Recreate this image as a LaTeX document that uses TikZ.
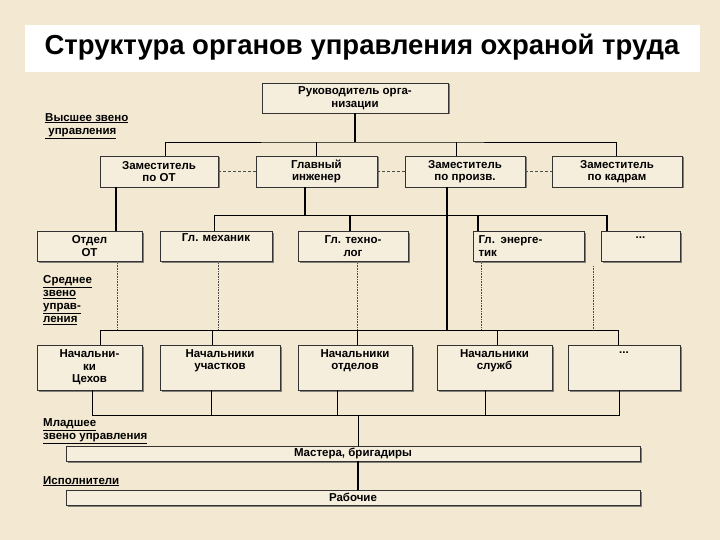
\documentclass[tikz,border=0pt]{standalone}
\usepackage{fontspec}
\setmainfont{Liberation Sans}
\usetikzlibrary{shadows}
\definecolor{bg}{HTML}{F3E9D3}
\definecolor{boxc}{HTML}{F6EEDD}
\tikzset{
 box/.style={draw=black!80,line width=0.8pt,fill=boxc,inner sep=1pt,align=center,font=\bfseries\fontsize{11.5}{12.5}\selectfont,
   drop shadow={shadow xshift=1.5pt,shadow yshift=-1.5pt,fill=black!60,opacity=0.8}},
 lab/.style={font=\bfseries\fontsize{11.5}{13}\selectfont,align=left,anchor=north west,inner sep=0pt},
 thick line/.style={line width=1.6pt},
 thin line/.style={line width=0.9pt},
 dline/.style={densely dashed,line width=0.5pt,black!70},
 dotl/.style={densely dotted,line width=0.6pt,black!70},
}
\newcommand{\bx}[6]{\node[box,minimum width={(#4-#2)*1pt},minimum height={(#5-#3)*1pt}] (#1) at ({(#2+#4)/2},{(#3+#5)/2}) {#6};}
\begin{document}
\begin{tikzpicture}[x=1pt,y=-1pt]
\fill[bg] (0,0) rectangle (720,540);
\useasboundingbox (0,0) rectangle (720,540);
\fill[white] (25,25) rectangle (700,72);
\node[font=\bfseries\fontsize{27.5}{30}\selectfont] (title) at (362,47) {Структура органов управления охраной труда};
\bx{top}{262}{83}{448}{113}{Руководитель орга-\\низации}
\bx{zot}{100}{156}{218}{187}{Заместитель\\по ОТ}
\bx{gi}{256}{156}{377}{187}{Главный\\инженер}
\bx{zp}{405}{156}{525}{187}{Заместитель\\по произв.}
\bx{zk}{552}{156}{682}{187}{Заместитель\\по кадрам}
\bx{oot}{37}{231}{142}{261}{Отдел\\ОТ}
\bx{gm}{160}{231}{272}{261}{Гл. механик\\\strut}
\bx{gt}{298}{231}{408}{261}{Гл. техно-\\лог}
\node[box,minimum width=111pt,minimum height=30pt,align=left,text width=100pt] (ge) at (528.5,246) {Гл. энерге-\\тик};
\bx{d1}{601}{231}{680}{261}{...\\\strut}
\bx{nc}{37}{345}{142}{390}{Начальни-\\ки\\Цехов}
\bx{nu}{160}{345}{280}{390}{Начальники\\участков\\\strut}
\bx{no}{298}{345}{412}{390}{Начальники\\отделов\\\strut}
\bx{ns}{437}{345}{552}{390}{Начальники\\служб\\\strut}
\bx{d2}{568}{345}{680}{390}{...\\\strut\\\strut}
\bx{ma}{66}{446}{640}{461}{Мастера, бригадиры}
\bx{ra}{66}{490}{640}{505}{Рабочие}
% labels
\node[lab] (l1) at (45,113) {\underline{Высшее звено}\\\underline{ управления}};
\node[lab] (l2) at (43,275) {\underline{Среднее}\\\underline{звено}\\\underline{управ-}\\\underline{ления}};
\node[lab] (l3) at (43,418) {\underline{Младшее}\\\underline{звено управления}};
\node[lab] (l4) at (43,476) {\underline{Исполнители}};
% top level
\coordinate (b1) at (355,142);
\draw[thick line] (top.south) -- (b1);
\draw[thin line] (zot.north -| 165,0) |- (b1) -| (zk.north -| 616,0);
\draw[thin line] (gi.north -| 316,0) -- (316,142);
\draw[thin line] (zp.north -| 456,0) -- (456,142);
\draw[dline] (zot.east) -- (gi.west);
\draw[dline] (gi.east) -- (zp.west);
\draw[dline] (zp.east) -- (zk.west);
% level 3
\draw[thick line] (zot.south -| 116,0) -- (oot.north -| 116,0);
\draw[thick line] (gi.south -| 305,0) -- (305,215);
\draw[thin line] (gm.north -| 214,0) |- (607,215) -- (d1.north -| 607,0);
\draw[thick line] (gt.north -| 350,0) -- (350,215);
\draw[thick line] (ge.north -| 478,0) -- (478,215);
\draw[thick line] (d1.north -| 607,0) -- (607,215);
% mid bus
\coordinate (b2) at (447,330);
\draw[thick line] (zp.south -| 447,0) -- (b2);
\draw[thin line] (nc.north -| 100,0) |- (618,330) -- (d2.north -| 618,0);
\draw[thin line] (nu.north -| 212,0) -- (212,330);
\draw[thin line] (no.north -| 357,0) -- (357,330);
\draw[thin line] (ns.north -| 497,0) -- (497,330);
\draw[dotl] (oot.south -| 117,0) -- (117,330);
\draw[dotl] (gm.south -| 218,0) -- (218,330);
\draw[dotl] (gt.south -| 357,0) -- (357,330);
\draw[dotl] (ge.south -| 481,0) -- (481,330);
\draw[dotl] (593,266) -- (593,330);
% lower bus
\draw[thin line] (nc.south -| 92,0) |- (619,415) -- (d2.south -| 619,0);
\draw[thin line] (nu.south -| 211,0) -- (211,415);
\draw[thin line] (no.south -| 337,0) -- (337,415);
\draw[thin line] (ns.south -| 485,0) -- (485,415);
\draw[thin line] (358,415) -- (ma.north -| 358,0);
\draw[thick line] (ma.south -| 358,0) -- (ra.north -| 358,0);
\end{tikzpicture}
\end{document}
